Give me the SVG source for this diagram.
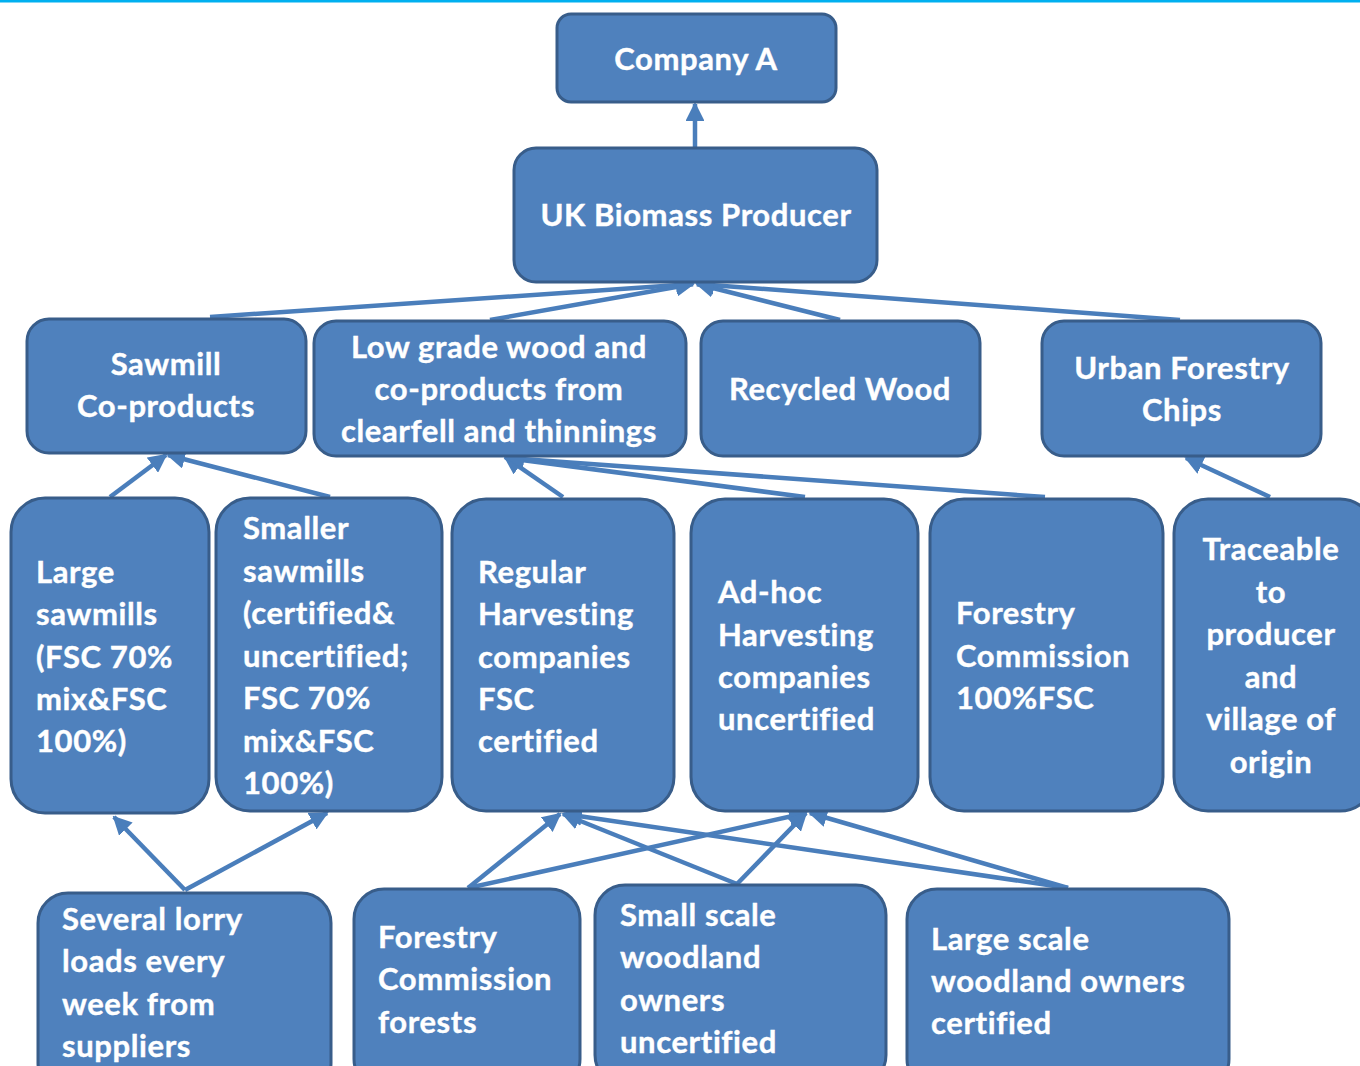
<svg xmlns="http://www.w3.org/2000/svg" width="1360" height="1066" viewBox="0 0 1360 1066">
<defs>
<style>
.n{fill:#4f81bd;stroke:#385d8a;stroke-width:3}
.t{fill:#ffffff;font-family:Lato,"Open Sans","Liberation Sans",sans-serif;font-weight:bold;font-size:31px;letter-spacing:0.6px;font-variant-ligatures:none;stroke:#ffffff;stroke-width:0.4px}
.c{text-anchor:middle}
.e{stroke:#4a7ebb;stroke-width:4.5;fill:none}
</style>
<marker id="a" viewBox="0 0 10 10" refX="9" refY="5" markerWidth="4.2" markerHeight="4.2" markerUnits="strokeWidth" orient="auto">
<path d="M0,0 L10,5 L0,10 z" fill="#4a7ebb"/>
</marker>
</defs>
<rect width="1360" height="1066" fill="#ffffff"/>
<rect x="0" y="0" width="1360" height="2.5" fill="#00b0f0"/>
<g id="connectors">
<line class="e" x1="695" y1="148" x2="695" y2="104" marker-end="url(#a)"/>
<line class="e" x1="210" y1="317" x2="693" y2="284" marker-end="url(#a)"/>
<line class="e" x1="490" y1="320" x2="693" y2="284" marker-end="url(#a)"/>
<line class="e" x1="840" y1="320" x2="697" y2="284" marker-end="url(#a)"/>
<line class="e" x1="1180" y1="320" x2="697" y2="284" marker-end="url(#a)"/>
<line class="e" x1="110" y1="497" x2="166" y2="455" marker-end="url(#a)"/>
<line class="e" x1="330" y1="497" x2="168" y2="455" marker-end="url(#a)"/>
<line class="e" x1="563" y1="497" x2="505" y2="457" marker-end="url(#a)"/>
<line class="e" x1="805" y1="497" x2="507" y2="458" marker-end="url(#a)"/>
<line class="e" x1="1045" y1="497" x2="507" y2="458" marker-end="url(#a)"/>
<line class="e" x1="1270" y1="497" x2="1186" y2="458" marker-end="url(#a)"/>
<line class="e" x1="185" y1="890" x2="114" y2="817" marker-end="url(#a)"/>
<line class="e" x1="185" y1="890" x2="327" y2="813" marker-end="url(#a)"/>
<line class="e" x1="468" y1="888" x2="560" y2="814" marker-end="url(#a)"/>
<line class="e" x1="468" y1="888" x2="806" y2="813" marker-end="url(#a)"/>
<line class="e" x1="737" y1="884" x2="563" y2="814" marker-end="url(#a)"/>
<line class="e" x1="737" y1="884" x2="806" y2="813" marker-end="url(#a)"/>
<line class="e" x1="1068" y1="888" x2="565" y2="814" marker-end="url(#a)"/>
<line class="e" x1="1068" y1="888" x2="810" y2="813" marker-end="url(#a)"/>
</g>
<g id="company-a">
<rect class="n" x="557" y="14" width="279" height="88" rx="14"/>
<text class="t c" x="696" y="70">Company A</text>
</g>
<g id="uk-biomass-producer">
<rect class="n" x="514" y="148" width="363" height="134" rx="22"/>
<text class="t c" x="696" y="226">UK Biomass Producer</text>
</g>
<g id="sawmill-coproducts">
<rect class="n" x="27" y="319" width="279" height="134" rx="22"/>
<text class="t c" x="166" y="375">Sawmill</text>
<text class="t c" x="166" y="417">Co-products</text>
</g>
<g id="low-grade-wood">
<rect class="n" x="314" y="321" width="372" height="135" rx="22"/>
<text class="t c" x="499" y="358">Low grade wood and</text>
<text class="t c" x="499" y="400">co-products from</text>
<text class="t c" x="499" y="442">clearfell and thinnings</text>
</g>
<g id="recycled-wood">
<rect class="n" x="701" y="321" width="279" height="135" rx="22"/>
<text class="t c" x="840" y="400">Recycled Wood</text>
</g>
<g id="urban-forestry-chips">
<rect class="n" x="1042" y="321" width="279" height="135" rx="22"/>
<text class="t c" x="1182" y="379">Urban Forestry</text>
<text class="t c" x="1182" y="421">Chips</text>
</g>
<g id="large-sawmills">
<rect class="n" x="11" y="498" width="198" height="315" rx="34"/>
<text class="t" x="36" y="583">Large</text>
<text class="t" x="36" y="625">sawmills</text>
<text class="t" x="36" y="668">(FSC 70%</text>
<text class="t" x="36" y="710">mix&amp;FSC</text>
<text class="t" x="36" y="752">100%)</text>
</g>
<g id="smaller-sawmills">
<rect class="n" x="216" y="498" width="226" height="313" rx="34"/>
<text class="t" x="243" y="539">Smaller</text>
<text class="t" x="243" y="582">sawmills</text>
<text class="t" x="243" y="624">(certified&amp;</text>
<text class="t" x="243" y="667">uncertified;</text>
<text class="t" x="243" y="709">FSC 70%</text>
<text class="t" x="243" y="752">mix&amp;FSC</text>
<text class="t" x="243" y="794">100%)</text>
</g>
<g id="regular-harvesting">
<rect class="n" x="452" y="499" width="222" height="312" rx="34"/>
<text class="t" x="478" y="583">Regular</text>
<text class="t" x="478" y="625">Harvesting</text>
<text class="t" x="478" y="668">companies</text>
<text class="t" x="478" y="710">FSC</text>
<text class="t" x="478" y="752">certified</text>
</g>
<g id="adhoc-harvesting">
<rect class="n" x="691" y="499" width="227" height="312" rx="34"/>
<text class="t" x="718" y="603">Ad-hoc</text>
<text class="t" x="718" y="646">Harvesting</text>
<text class="t" x="718" y="688">companies</text>
<text class="t" x="718" y="730">uncertified</text>
</g>
<g id="forestry-commission-fsc">
<rect class="n" x="930" y="499" width="233" height="312" rx="34"/>
<text class="t" x="956" y="624">Forestry</text>
<text class="t" x="956" y="667">Commission</text>
<text class="t" x="956" y="709">100%FSC</text>
</g>
<g id="traceable">
<rect class="n" x="1174" y="499" width="200" height="312" rx="34"/>
<text class="t c" x="1271" y="560">Traceable</text>
<text class="t c" x="1271" y="603">to</text>
<text class="t c" x="1271" y="645">producer</text>
<text class="t c" x="1271" y="688">and</text>
<text class="t c" x="1271" y="730">village of</text>
<text class="t c" x="1271" y="773">origin</text>
</g>
<g id="several-lorry-loads">
<rect class="n" x="38" y="893" width="293" height="200" rx="30"/>
<text class="t" x="62" y="930">Several lorry</text>
<text class="t" x="62" y="972">loads every</text>
<text class="t" x="62" y="1015">week from</text>
<text class="t" x="62" y="1057">suppliers</text>
</g>
<g id="forestry-commission-forests">
<rect class="n" x="354" y="889" width="226" height="200" rx="30"/>
<text class="t" x="378" y="948">Forestry</text>
<text class="t" x="378" y="990">Commission</text>
<text class="t" x="378" y="1033">forests</text>
</g>
<g id="small-scale-woodland">
<rect class="n" x="595" y="885" width="291" height="200" rx="30"/>
<text class="t" x="620" y="926">Small scale</text>
<text class="t" x="620" y="968">woodland</text>
<text class="t" x="620" y="1011">owners</text>
<text class="t" x="620" y="1053">uncertified</text>
</g>
<g id="large-scale-woodland">
<rect class="n" x="907" y="889" width="322" height="200" rx="30"/>
<text class="t" x="931" y="950">Large scale</text>
<text class="t" x="931" y="992">woodland owners</text>
<text class="t" x="931" y="1034">certified</text>
</g>
</svg>
